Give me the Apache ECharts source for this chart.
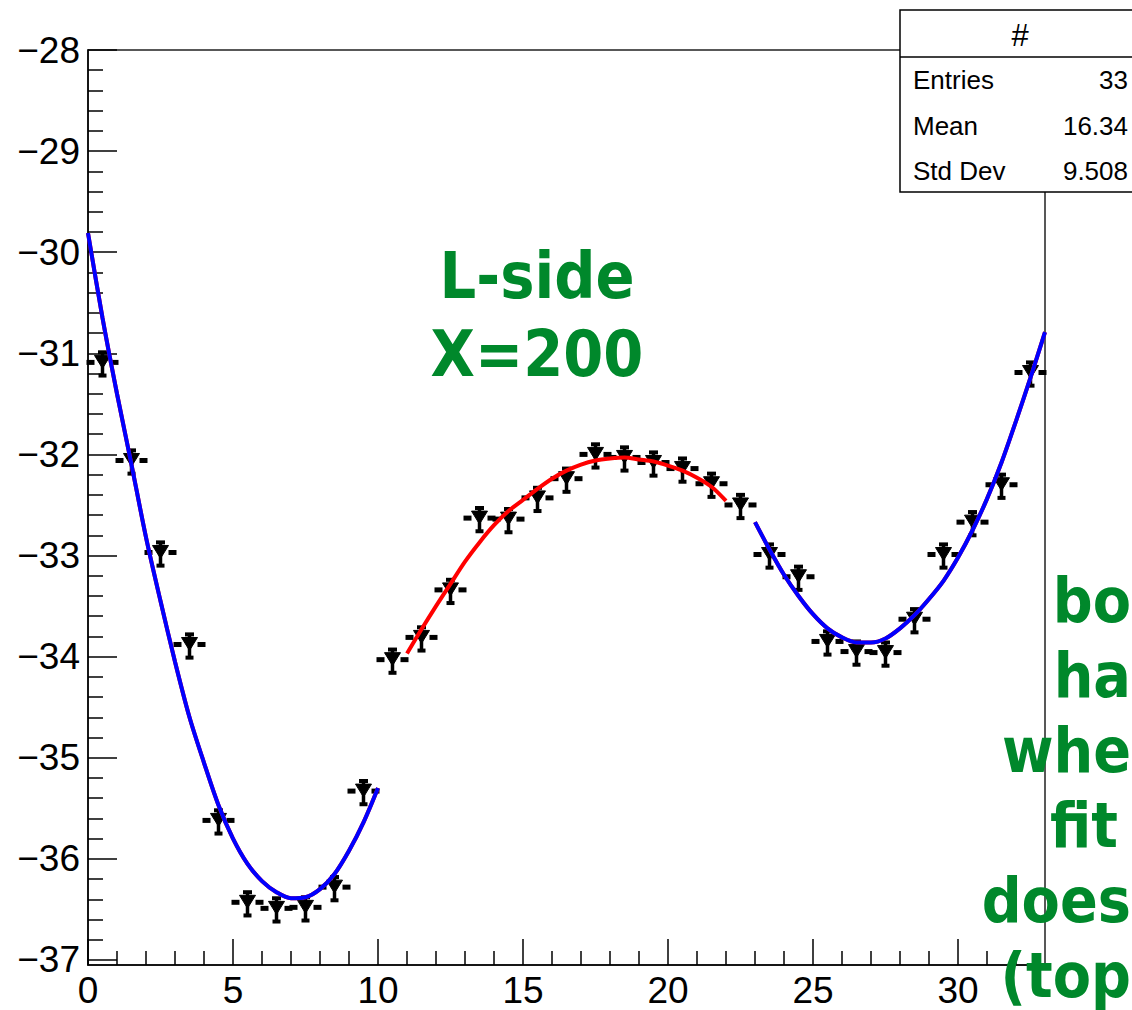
<!DOCTYPE html>
<html>
<head>
<meta charset="utf-8">
<script src="https://cdn.jsdelivr.net/npm/echarts@6/dist/echarts.min.js"></script>
<style>
html,body{margin:0;padding:0;background:#fff;}
#chart{width:1132px;height:1010px;}
</style>
</head>
<body>
<div id="chart"></div>
<script>
// ---- data ----
const binCenters = [0.5,1.5,2.5,3.5,4.5,5.5,6.5,7.5,8.5,9.5,10.5,11.5,12.5,13.5,14.5,15.5,16.5,17.5,18.5,19.5,20.5,21.5,22.5,23.5,24.5,25.5,26.5,27.5,28.5,29.5,30.5,31.5,32.5];
const binValues = [-31.08,-32.05,-32.96,-33.87,-35.61,-36.42,-36.48,-36.47,-36.27,-35.32,-34.02,-33.80,-33.33,-32.62,-32.63,-32.42,-32.23,-31.99,-32.02,-32.07,-32.13,-32.28,-32.49,-32.98,-33.20,-33.84,-33.94,-33.95,-33.62,-32.98,-32.66,-32.29,-31.18];
const errUp = 0.09;
const errDown = 0.14;
const binHalfWidth = 0.5;

const fit1X = [0,0.5,1,1.5,2,2.5,3,3.5,4,4.5,5,5.5,6,6.5,7,7.5,8,8.5,9,9.5,10];
const fit1Y = [-29.81,-30.65,-31.40,-32.10,-32.82,-33.45,-34.05,-34.60,-35.05,-35.47,-35.80,-36.05,-36.22,-36.33,-36.39,-36.38,-36.30,-36.15,-35.92,-35.64,-35.30];

const fit2X = [11,11.5,12,12.5,13,13.5,14,14.5,15,15.5,16,16.5,17,17.5,18,18.5,19,19.5,20,20.5,21,21.5,22];
const fit2Y = [-33.97,-33.73,-33.50,-33.28,-33.06,-32.87,-32.70,-32.56,-32.45,-32.34,-32.24,-32.16,-32.10,-32.06,-32.04,-32.03,-32.05,-32.07,-32.11,-32.16,-32.23,-32.32,-32.46];

const fit3X = [23,23.5,24,24.5,25,25.5,26,26.5,27,27.5,28,28.5,29,29.5,30,30.5,31,31.5,32,32.5,33];
const fit3Y = [-32.67,-32.94,-33.19,-33.40,-33.58,-33.72,-33.81,-33.86,-33.86,-33.82,-33.72,-33.59,-33.43,-33.25,-33.02,-32.75,-32.44,-32.08,-31.67,-31.24,-30.79];

const xMajorTicks = [0,5,10,15,20,25,30];
const xMinorTicks = [1,2,3,4,6,7,8,9,11,12,13,14,16,17,18,19,21,22,23,24,26,27,28,29,31,32];
const yMajorTicks = [-37,-36,-35,-34,-33,-32,-31,-30,-29,-28];
const yMinorTicks = [];
for (let i = 0; i < yMajorTicks.length - 1; i++) {
  for (let j = 1; j < 5; j++) yMinorTicks.push(Math.round((yMajorTicks[i] + j * 0.2) * 10) / 10);
}

const statsTitle = '#';
const statsNames = ['Entries','Mean','Std Dev'];
const statsValues = ['33','16.34','9.508'];
const noteMain = ['L-side','X=200'];
const noteSide = ['bo','ha','whe','fit','does','(top'];

// ---- chart ----
const chart = echarts.init(document.getElementById('chart'), null, {renderer:'svg'});
const AX = '#000';
const LABEL_FONT = 'Liberation Sans, Arial, Helvetica, sans-serif';
const NOTE_FONT = "'Comic Sans MS', 'DejaVu Sans Condensed', 'DejaVu Sans', sans-serif";
const GREEN = '#00882b';
const minus = v => String(v).replace('-', '\u2212');

function pairs(xs, ys){ return xs.map((x,i)=>[x, ys[i]]); }

function renderMarker(params, api){
  const x = api.value(0), y = api.value(1);
  const c = api.coord([x, y]);
  const l = api.coord([x - binHalfWidth, y])[0];
  const r = api.coord([x + binHalfWidth, y])[0];
  const top = api.coord([x, y + errUp])[1];
  const bot = api.coord([x, y - errDown])[1];
  const st = {stroke:'#000', lineWidth:4};
  return {type:'group', children:[
    {type:'line', shape:{x1:l-1.5, y1:c[1]+1, x2:c[0]-8, y2:c[1]+1}, style:{stroke:'#000', lineWidth:5}},
    {type:'line', shape:{x1:c[0]+8, y1:c[1]+1, x2:r+1.5, y2:c[1]+1}, style:{stroke:'#000', lineWidth:5}},
    {type:'line', shape:{x1:c[0], y1:top, x2:c[0], y2:bot}, style:{stroke:'#000', lineWidth:3.5}},
    {type:'line', shape:{x1:c[0]-4.5, y1:top, x2:c[0]+4.5, y2:top}, style:st},
    {type:'line', shape:{x1:c[0]-4, y1:bot, x2:c[0]+4, y2:bot}, style:st},
    {type:'polygon', shape:{points:[[c[0]-8, c[1]-6],[c[0]+8, c[1]-6],[c[0], c[1]+7]]}, style:{fill:'#000', stroke:'#000', lineWidth:1}}
  ]};
}

const graphics = [
  {type:'rect', z:100, shape:{x:900, y:10, width:245, height:182}, style:{fill:'#fff', stroke:'#000', lineWidth:1.5}},
  {type:'line', z:101, shape:{x1:900, y1:57, x2:1145, y2:57}, style:{stroke:'#000', lineWidth:1.5}},
  {type:'text', z:101, x:1020, y:35, style:{text:statsTitle, font:'31px '+LABEL_FONT, fill:'#000', align:'center', verticalAlign:'middle'}}
];
const rowY = [80, 126, 171];
statsNames.forEach((n,i)=>{
  graphics.push({type:'text', z:101, x:913, y:rowY[i], style:{text:n, font:'26px '+LABEL_FONT, fill:'#000', align:'left', verticalAlign:'middle'}});
  graphics.push({type:'text', z:101, x:1128, y:rowY[i], style:{text:statsValues[i], font:'26px '+LABEL_FONT, fill:'#000', align:'right', verticalAlign:'middle'}});
});
const mainNoteY = [276, 354];
noteMain.forEach((t,i)=>{
  graphics.push({type:'text', z:50, x:537, y:mainNoteY[i], style:{text:t, font:'bold 64px '+NOTE_FONT, fill:GREEN, align:'center', verticalAlign:'middle'}});
});
const sideNoteY = [600,675,750,825,900,975];
noteSide.forEach((t,i)=>{
  const isFit = (t === 'fit');
  graphics.push({type:'text', z:50, x: isFit ? 1050 : 1131, y:sideNoteY[i], style:{text:t, font:'bold 62px '+NOTE_FONT, fill:GREEN, align: isFit ? 'left' : 'right', verticalAlign:'middle'}});
});

const option = {
  animation:false,
  backgroundColor:'#fff',
  grid:{left:88, top:50, width:957, height:915, show:true, borderColor:'#222', borderWidth:1.5, backgroundColor:'transparent'},
  xAxis:[
    {type:'value', position:'bottom', min:0, max:33, offset:0,
     axisLine:{show:true, lineStyle:{color:AX, width:1.5}},
     axisTick:{show:true, inside:true, length:26, customValues:xMajorTicks, lineStyle:{color:AX, width:1.5}},
     axisLabel:{show:true, customValues:xMajorTicks, margin:7, fontSize:37, fontFamily:LABEL_FONT, color:'#000'},
     splitLine:{show:false}},
    {type:'value', position:'bottom', min:0, max:33, offset:0,
     axisLine:{show:false},
     axisTick:{show:true, inside:true, length:14, customValues:xMinorTicks, lineStyle:{color:AX, width:1.5}},
     axisLabel:{show:false},
     splitLine:{show:false}}
  ],
  yAxis:[
    {type:'value', position:'left', min:-37.05, max:-28, offset:0,
     axisLine:{show:true, lineStyle:{color:AX, width:1.5}},
     axisTick:{show:true, inside:true, length:29, customValues:yMajorTicks, lineStyle:{color:AX, width:1.5}},
     axisLabel:{show:true, customValues:yMajorTicks, margin:8, fontSize:37, fontFamily:LABEL_FONT, color:'#000', formatter:minus},
     splitLine:{show:false}},
    {type:'value', position:'left', min:-37.05, max:-28, offset:0,
     axisLine:{show:false},
     axisTick:{show:true, inside:true, length:15, customValues:yMinorTicks, lineStyle:{color:AX, width:1.5}},
     axisLabel:{show:false},
     splitLine:{show:false}}
  ],
  graphic:{elements:graphics},
  series:[
    {type:'custom', name:'bins', xAxisIndex:0, yAxisIndex:0, z:2, silent:true,
     data:binCenters.map((x,i)=>[x, binValues[i]]), renderItem:renderMarker, clip:false},
    {type:'line', name:'fitL-red', xAxisIndex:0, yAxisIndex:0, z:3, data:pairs(fit1X, fit1Y), showSymbol:false, smooth:0.3, lineStyle:{color:'#ff0000', width:4}},
    {type:'line', name:'fitL-blue', xAxisIndex:0, yAxisIndex:0, z:4, data:pairs(fit1X, fit1Y), showSymbol:false, smooth:0.3, lineStyle:{color:'#0000ff', width:4}},
    {type:'line', name:'fitM-red', xAxisIndex:0, yAxisIndex:0, z:3, data:pairs(fit2X, fit2Y), showSymbol:false, smooth:0.3, lineStyle:{color:'#ff0000', width:4}},
    {type:'line', name:'fitR-red', xAxisIndex:0, yAxisIndex:0, z:3, data:pairs(fit3X, fit3Y), showSymbol:false, smooth:0.3, lineStyle:{color:'#ff0000', width:4}},
    {type:'line', name:'fitR-blue', xAxisIndex:0, yAxisIndex:0, z:4, data:pairs(fit3X, fit3Y), showSymbol:false, smooth:0.3, lineStyle:{color:'#0000ff', width:4}}
  ]
};
chart.setOption(option);
</script>
</body>
</html>
